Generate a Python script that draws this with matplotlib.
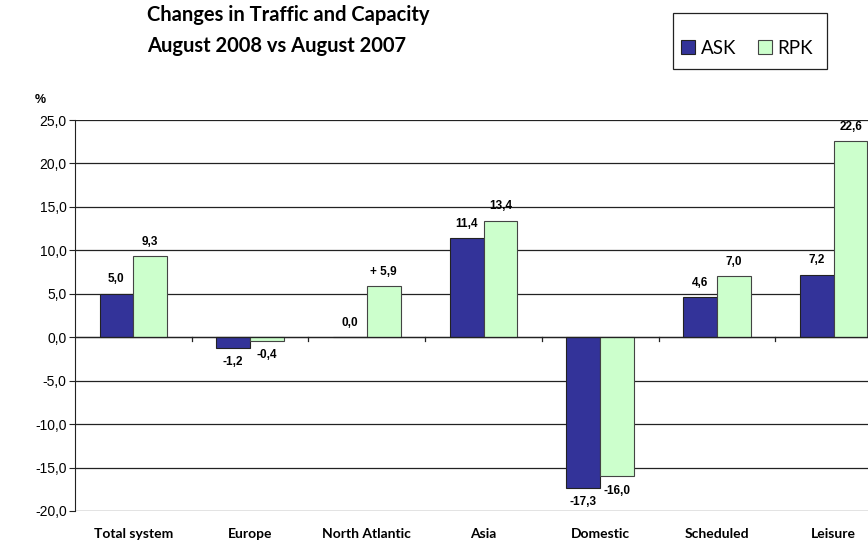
import matplotlib
matplotlib.use("Agg")
import matplotlib.pyplot as plt
from matplotlib.patches import Rectangle
import numpy as np

categories = ["Total system", "Europe", "North Atlantic", "Asia", "Domestic", "Scheduled", "Leisure"]
ask = [5.0, -1.2, 0.0, 11.4, -17.3, 4.6, 7.2]
rpk = [9.3, -0.4, 5.9, 13.4, -16.0, 7.0, 22.6]
ask_labels = ["5,0", "-1,2", "0,0", "11,4", "-17,3", "4,6", "7,2"]
rpk_labels = ["9,3", "-0,4", "+ 5,9", "13,4", "-16,0", "7,0", "22,6"]
yticks = [25, 20, 15, 10, 5, 0, -5, -10, -15, -20]

fig = plt.figure(figsize=(8.68, 5.43), dpi=100)
W, H = 868, 543
x0, x1 = 75, 892
ytop, ybot = 120, 511
ax = fig.add_axes([x0 / W, 1 - ybot / H, (x1 - x0) / W, (ybot - ytop) / H])

x = np.arange(len(categories))
bw = 0.29
ax.bar(x - bw / 2, ask, bw, color="#333399", edgecolor="#222222", linewidth=0.8, label="ASK", zorder=3)
ax.bar(x + bw / 2, rpk, bw, color="#CCFFCC", edgecolor="#444444", linewidth=0.8, label="RPK", zorder=3)

ax.set_xlim(-0.5, len(categories) - 0.5)
ax.set_ylim(-20, 25)
ax.set_yticks(yticks)
ax.set_yticklabels([f"{v:.1f}".replace(".", ",") for v in yticks], fontsize=10, family="Liberation Sans")
ax.yaxis.grid(True, color="#222222", linewidth=0.9, zorder=0)
ax.set_axisbelow(True)
for s in ["top", "right", "bottom"]:
    ax.spines[s].set_visible(False)
ax.spines["left"].set_color("#222222")
ax.tick_params(axis="y", length=4, color="#222222", pad=2)

# x-axis at zero
ax.axhline(0, color="#222222", linewidth=0.9, zorder=4)
for b in np.arange(0.5, len(categories) - 0.5, 1.0):
    ax.plot([b, b], [0, -0.45], color="#222222", linewidth=0.9, zorder=4, clip_on=False)
ax.set_xticks([])
for i, c in enumerate(categories):
    ax.text(i, -22.0, c, ha="center", va="top", fontsize=10, fontweight="bold",
            family="Lato")

lab_kw = dict(fontsize=8.5, fontweight="bold", family="Liberation Sans", zorder=5,
              ha="center", va="center")
off = 1.65
for i, (v, l) in enumerate(zip(ask, ask_labels)):
    ax.text(i - bw / 2, v + off if v >= 0 else v - off, l, **lab_kw)
for i, (v, l) in enumerate(zip(rpk, rpk_labels)):
    ax.text(i + bw / 2, v + off if v >= 0 else v - off, l, **lab_kw)

fig.text(40 / W, 1 - 100 / H, "%", fontsize=9, fontweight="bold", family="Liberation Sans", ha="center", va="center")

fig.text(147 / W, 1 - 15 / H, "Changes in Traffic and Capacity", fontsize=14.5, fontweight="bold",
         family="Lato", ha="left", va="center")
fig.text(147 / W, 1 - 46 / H, "August 2008 vs August 2007", fontsize=14.5, fontweight="bold",
         family="Lato", ha="left", va="center")

# legend frame drawn manually
fig.patches.append(Rectangle((673 / W, 1 - 69 / H), (827 - 673) / W, (69 - 13) / H,
                             transform=fig.transFigure, fill=False, edgecolor="#222222",
                             linewidth=0.9))
leg = fig.legend(loc="center left", bbox_to_anchor=(681 / W, 1 - 48 / H), ncol=2, frameon=False,
                 handlelength=0.75, handleheight=0.75,
                 handletextpad=0.3, columnspacing=1.15, borderpad=0.0, borderaxespad=0.0,
                 prop={"family": "Lato", "size": 13.5})

fig.savefig("out.png", dpi=100)
